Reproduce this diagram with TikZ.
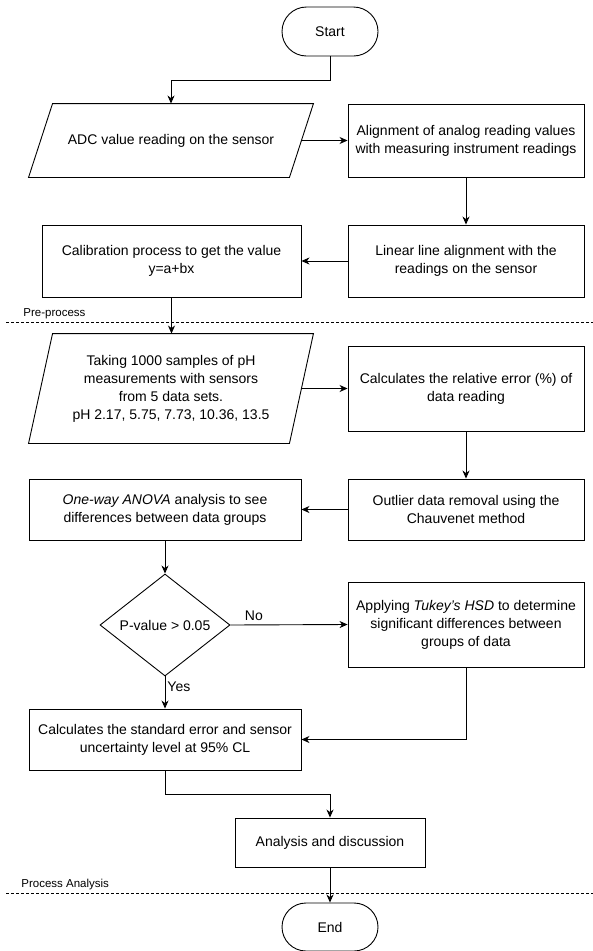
\documentclass[tikz,border=0pt]{standalone}
\usepackage{fontspec}
\setmainfont{Liberation Sans}
\usetikzlibrary{calc,shapes.geometric,shapes.misc,arrows.meta}

\tikzset{
	procbox/.style={draw, rectangle, align=center, inner sep=2pt},
	termbox/.style={draw, rounded rectangle, minimum width=100pt, minimum height=49pt, inner sep=2pt},
	iobox/.style={rectangle, align=center, inner sep=2pt, minimum width=260pt},
	decbox/.style={draw, diamond, minimum width=130pt, minimum height=102pt, inner sep=0pt},
	arr/.style={-{Stealth[length=8pt,width=7pt,inset=2.5pt]}},
	sepline/.style={line width=0.8pt, dash pattern=on 3pt off 2pt},
	seplabel/.style={font=\fontsize{11.5}{13}\selectfont, anchor=west, inner sep=0pt}
}
\newcommand{\slantbox}[1]{%
	\draw ($(#1.north west)+(12,0)$) -- ($(#1.north east)+(12,0)$)
		-- ($(#1.south east)+(-12,0)$) -- ($(#1.south west)+(-12,0)$) -- cycle;}

\begin{document}
\begin{tikzpicture}[x=1pt, y=-1pt, line width=0.9pt, font=\fontsize{14}{18}\selectfont]
		\useasboundingbox (0,0) rectangle (593,951);
		% pre-process
		\node[termbox] (start) at (330,31.5) {Start};
		\node[iobox, minimum height=73pt] (adc) at (171,140.5) {ADC value reading on the sensor};
		\node[procbox, minimum width=236pt, minimum height=73pt] (align) at (466,140.5)
			{Alignment of analog reading values\\with measuring instrument readings};
		\node[procbox, minimum width=236pt, minimum height=72pt] (linear) at (466,261)
			{Linear line alignment with the\\readings on the sensor};
		\node[procbox, minimum width=259pt, minimum height=72pt] (calib) at (171.5,261)
			{Calibration process to get the value\\y=a+bx};
		% process
		\node[iobox, minimum height=109pt] (samples) at (171,388.5)
			{Taking 1000 samples of pH\\measurements with sensors\\from 5 data sets.\\pH 2.17, 5.75, 7.73, 10.36, 13.5};
		\node[procbox, minimum width=236pt, minimum height=85pt] (relerr) at (466,388.5)
			{Calculates the relative error (\%) of\\data reading};
		\node[procbox, minimum width=236pt, minimum height=61pt] (outlier) at (466,509.5)
			{Outlier data removal using the\\Chauvenet method};
		\node[procbox, minimum width=272pt, minimum height=61pt] (anova) at (165,509.5)
			{\textit{One-way ANOVA} analysis to see\\differences between data groups};
		\node[decbox] (pval) at (165,625) {P-value > 0.05};
		\node[procbox, minimum width=236pt, minimum height=85pt] (tukey) at (466,624.5)
			{Applying \textit{Tukey's HSD} to determine\\significant differences between\\groups of data};
		\node[procbox, minimum width=272pt, minimum height=61pt] (stderr) at (165,739.5)
			{Calculates the standard error and sensor\\uncertainty level at 95\% CL};
		\node[procbox, minimum width=190pt, minimum height=49pt] (discuss) at (330,842.5) {Analysis and discussion};
		\node[termbox, minimum height=48pt] (finish) at (330,927) {End};
		% input shapes
		\slantbox{adc}
		\slantbox{samples}
		% separators
		\draw[sepline] (6,322) -- (593,322);
		\node[seplabel] (prelabel) at (23,314) {Pre-process};
		\draw[sepline] (6,893) -- (593,893);
		\node[seplabel] (analabel) at (21,885) {Process Analysis};
		% connectors
		\draw[arr] (start.south) -- ++(0,24) -| (adc.north);
		\draw[arr] (adc.east) -- (align.west);
		\draw[arr] (align.south) -- (linear.north);
		\draw[arr] (linear.west) -- (calib.east);
		\draw[arr] (calib.south) -- (calib.south |- samples.north);
		\draw[arr] (samples.east) -- (relerr.west);
		\draw[arr] (relerr.south) -- (outlier.north);
		\draw[arr] (outlier.west) -- (anova.east);
		\draw[arr] (anova.south) -- (pval.north);
		\draw[arr] (pval.east) -- node[above, pos=0.2] (no) {No} (tukey.west);
		\draw[arr] (pval.south) -- node[right, pos=0.33, inner sep=2pt] (yes) {Yes} (stderr.north);
		\draw[arr] (tukey.south) |- (stderr.east);
		\draw[arr] (stderr.south) -- ++(0,24) -| (discuss.north);
		\draw[arr] (discuss.south) -- (finish.north);
\end{tikzpicture}
\end{document}
